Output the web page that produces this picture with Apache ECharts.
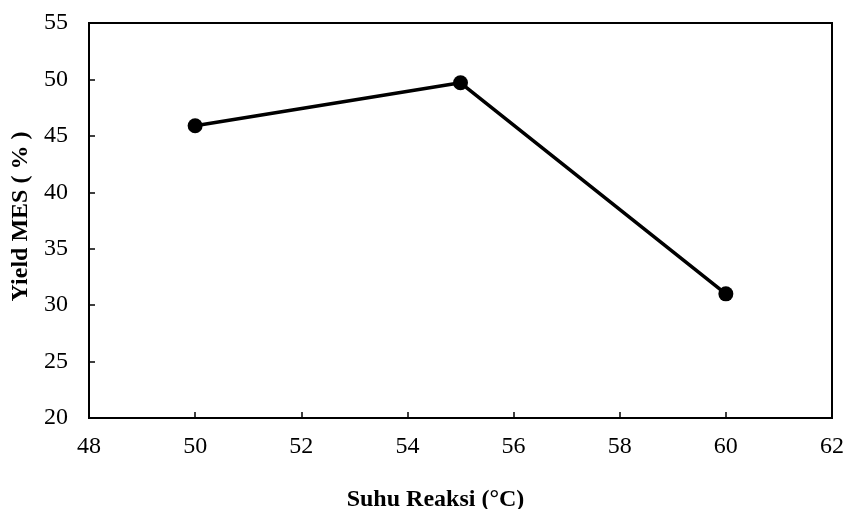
<!DOCTYPE html>
<html>
<head>
<meta charset="utf-8">
<script src="https://cdn.jsdelivr.net/npm/echarts@6/dist/echarts.min.js"></script>
<style>
  html, body { margin: 0; padding: 0; background: #fff; }
  #chart { width: 847px; height: 509px; }
</style>
</head>
<body>
<div id="chart"></div>
<script>
// data
var suhu = [50, 55, 60];
var yieldMES = [45.9, 49.7, 31.0];

var points = suhu.map(function (x, i) { return [x, yieldMES[i]]; });

var chart = echarts.init(document.getElementById("chart"), null, { renderer: "canvas" });
var font = "Liberation Serif";

chart.setOption({
  animation: false,
  backgroundColor: "#fff",
  grid: {
    left: 89,
    right: 15,
    top: 23,
    bottom: 91,
    containLabel: false,
    outerBoundsMode: "none",
    show: true,
    borderColor: "#000",
    borderWidth: 2
  },
  xAxis: {
    type: "value",
    min: 48,
    max: 62,
    interval: 2,
    name: "Suhu Reaksi (°C)",
    nameLocation: "middle",
    nameGap: 70,
    nameTextStyle: { fontFamily: font, fontSize: 24, fontWeight: "bold", color: "#000", padding: [0, 50, 0, 0] },
    axisLine: { show: true, lineStyle: { color: "#000", width: 2 } },
    axisTick: { show: true, inside: true, length: 6, lineStyle: { color: "#000", width: 1.5 } },
    axisLabel: { fontFamily: font, fontSize: 24, color: "#000", margin: 17 },
    splitLine: { show: false }
  },
  yAxis: {
    type: "value",
    min: 20,
    max: 55,
    interval: 5,
    name: "Yield MES ( % )",
    nameLocation: "middle",
    nameGap: 53,
    nameTextStyle: { fontFamily: font, fontSize: 24, fontWeight: "bold", color: "#000", padding: [0, 0, 0, 8] },
    axisLine: { show: true, lineStyle: { color: "#000", width: 2 } },
    axisTick: { show: true, inside: true, length: 6, lineStyle: { color: "#000", width: 1.5 } },
    axisLabel: { fontFamily: font, fontSize: 24, color: "#000", margin: 21 },
    splitLine: { show: false }
  },
  series: [
    {
      type: "line",
      data: points,
      symbol: "circle",
      symbolSize: 15,
      lineStyle: { color: "#000", width: 3.5 },
      itemStyle: { color: "#000" }
    }
  ]
});
</script>
</body>
</html>
